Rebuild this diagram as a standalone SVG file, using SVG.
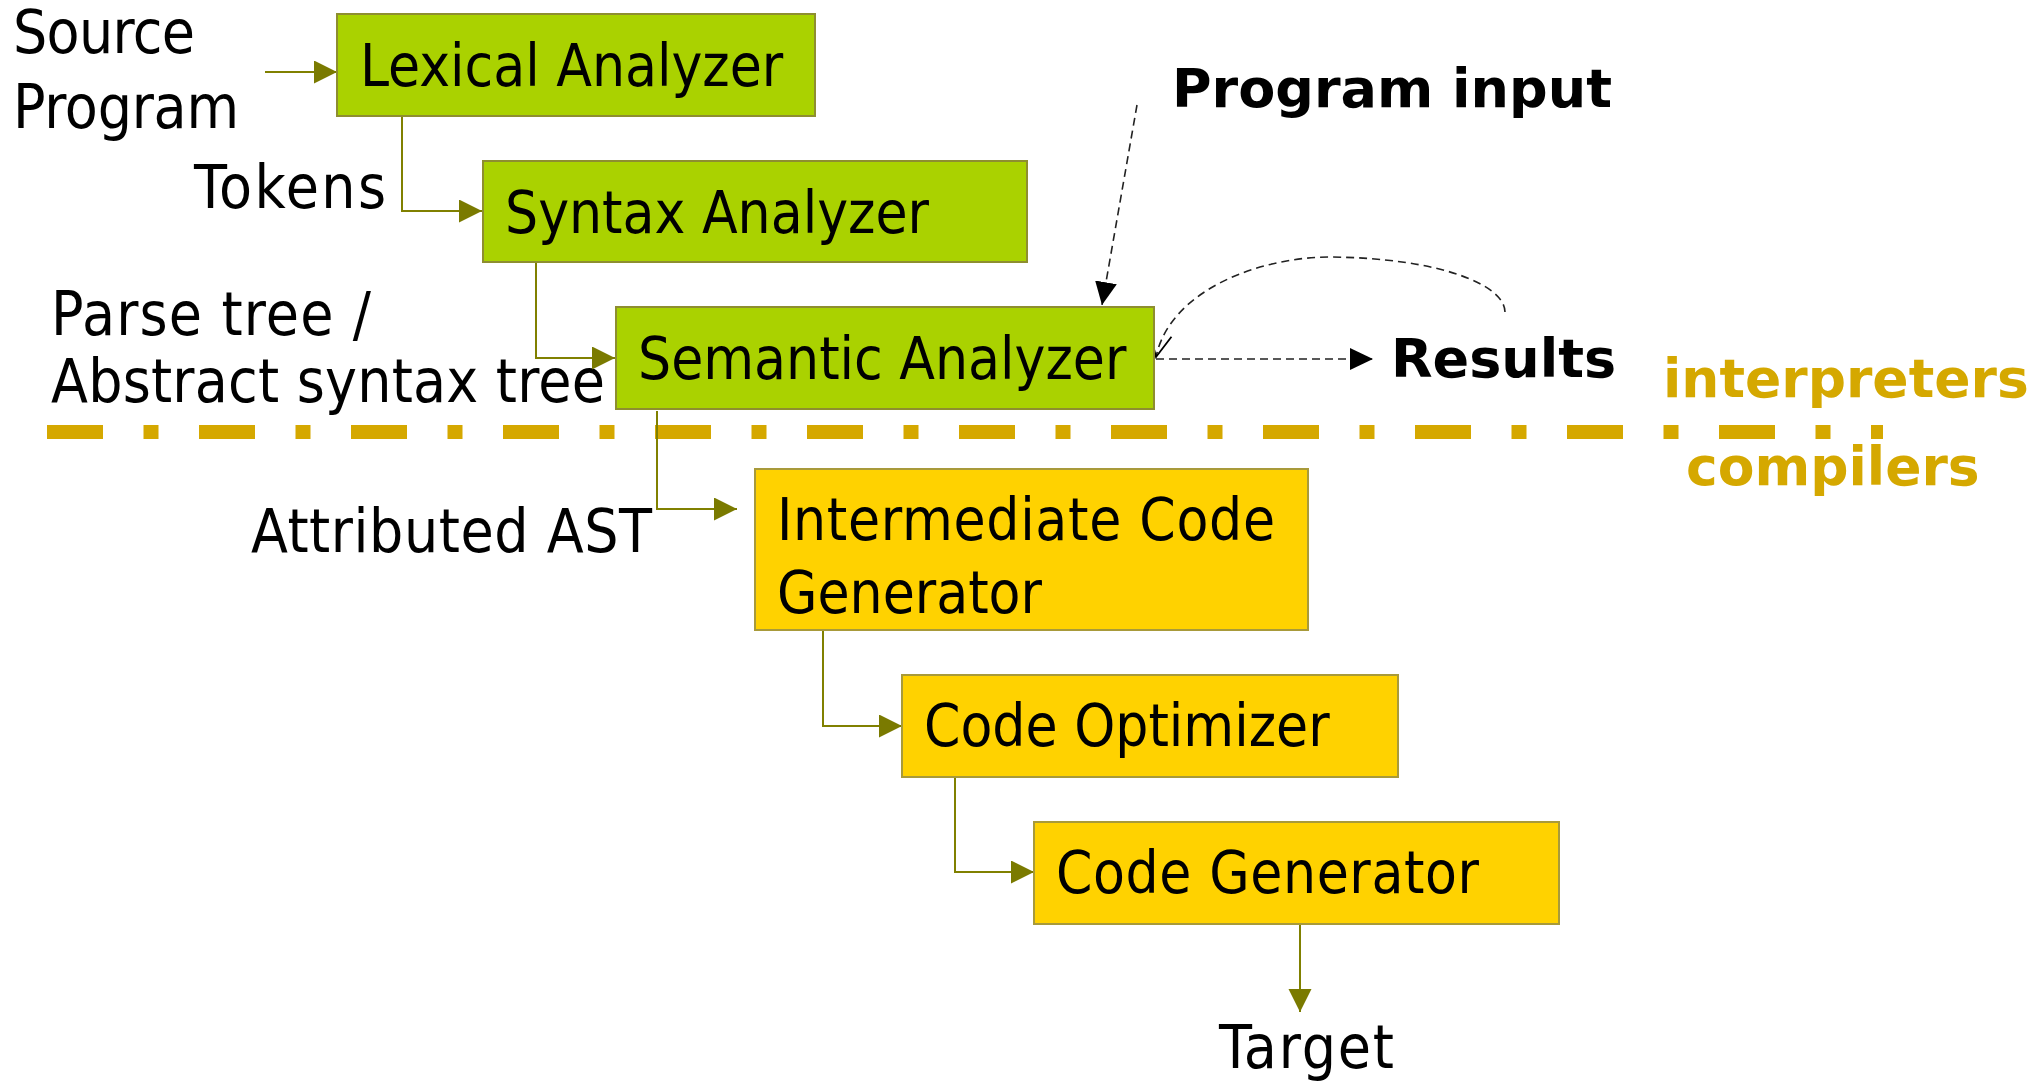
<svg xmlns="http://www.w3.org/2000/svg" width="2041" height="1081" viewBox="0 0 2041 1081">
  <defs>
    <style>
      .g { fill: #AAD200; stroke: #8E8E30; stroke-width: 2; }
      .y { fill: #FFD200; stroke: #A89A3A; stroke-width: 2; }
      .t { font-family: "DejaVu Sans Condensed", "DejaVu Sans", sans-serif; font-stretch: condensed; font-size: 58px; fill: #000; }
      .lbl { font-family: "DejaVu Sans Condensed", "DejaVu Sans", sans-serif; font-stretch: condensed; font-size: 60px; fill: #000; }
      .b { font-family: "DejaVu Sans", Verdana, sans-serif; font-weight: bold; font-size: 54px; fill: #000; }
      .gold { font-family: "DejaVu Sans", Verdana, sans-serif; font-weight: bold; font-size: 53.5px; fill: #D5A800; }
      .ol { fill: none; stroke: #808000; stroke-width: 2; }
      .dash { fill: none; stroke: #222; stroke-width: 1.6; stroke-dasharray: 8 5; }
    </style>
    <marker id="oa" markerUnits="userSpaceOnUse" markerWidth="24" markerHeight="24" refX="23" refY="11.5" orient="auto">
      <path d="M0,0 L23,11.5 L0,23 Z" fill="#7A7A00"/>
    </marker>
    <marker id="ba" markerUnits="userSpaceOnUse" markerWidth="24" markerHeight="24" refX="23" refY="11" orient="auto">
      <path d="M0,0 L23,11 L0,22 Z" fill="#000"/>
    </marker>
    <marker id="va" markerUnits="userSpaceOnUse" markerWidth="30" markerHeight="30" refX="25" refY="13" orient="auto">
      <path d="M2,2 L25,13 L2,24" fill="none" stroke="#000" stroke-width="1.8"/>
    </marker>
  </defs>

  <g id="separator">
    <line x1="47" y1="432" x2="1883" y2="432" stroke="#D5A800" stroke-width="14" stroke-dasharray="56 40.5 15 40.5"/>
  </g>

  <g id="labels">
    <text class="lbl" x="13" y="53" textLength="182" lengthAdjust="spacing">Source</text>
    <text class="lbl" x="13" y="128" textLength="226" lengthAdjust="spacing">Program</text>
    <text class="lbl" x="194" y="208" textLength="192" lengthAdjust="spacing">Tokens</text>
    <text class="lbl" x="51" y="335" textLength="320" lengthAdjust="spacing">Parse tree /</text>
    <text class="lbl" x="51" y="402" textLength="554" lengthAdjust="spacing">Abstract syntax tree</text>
    <text class="lbl" x="251" y="552" textLength="401" lengthAdjust="spacing">Attributed AST</text>
    <text class="lbl" x="1219" y="1068" textLength="175" lengthAdjust="spacing">Target</text>
    <text class="b" x="1172" y="107">Program input</text>
    <text class="b" x="1391" y="377">Results</text>
    <text class="gold" x="1663" y="397">interpreters</text>
    <text class="gold" x="1686" y="485">compilers</text>
  </g>

  <g id="connectors">
    <line class="ol" x1="265" y1="72" x2="337" y2="72" marker-end="url(#oa)"/>
    <polyline class="ol" points="402,116 402,211 482,211" marker-end="url(#oa)"/>
    <polyline class="ol" points="536,262 536,358 615,358" marker-end="url(#oa)"/>
    <polyline class="ol" points="657,411 657,509 737,509" marker-end="url(#oa)"/>
    <polyline class="ol" points="823,631 823,726 902,726" marker-end="url(#oa)"/>
    <polyline class="ol" points="955,777 955,872 1034,872" marker-end="url(#oa)"/>
    <line class="ol" x1="1300" y1="922" x2="1300" y2="1012" marker-end="url(#oa)"/>
    <line class="dash" x1="1137" y1="105" x2="1102" y2="305" stroke-dasharray="10 5" marker-end="url(#ba)"/>
    <line class="dash" x1="1156" y1="359" x2="1373" y2="359" marker-end="url(#ba)"/>
    <path class="dash" d="M1505,312 C1505,285 1440,258 1330,257 C1260,257 1170,290 1156,357" marker-end="url(#va)"/>
  </g>

  <g id="lexical">
    <rect class="g" x="337" y="14" width="478" height="102"/>
    <text class="t" x="360" y="86">Lexical Analyzer</text>
  </g>
  <g id="syntax">
    <rect class="g" x="483" y="161" width="544" height="101"/>
    <text class="t" x="505" y="233">Syntax Analyzer</text>
  </g>
  <g id="semantic">
    <rect class="g" x="616" y="307" width="538" height="102"/>
    <text class="t" x="638" y="379">Semantic Analyzer</text>
  </g>
  <g id="icg">
    <rect class="y" x="755" y="469" width="553" height="161"/>
    <text class="t" x="777" y="540" textLength="498" lengthAdjust="spacing">Intermediate Code</text>
    <text class="t" x="777" y="613">Generator</text>
  </g>
  <g id="optimizer">
    <rect class="y" x="902" y="675" width="496" height="102"/>
    <text class="t" x="924" y="746">Code Optimizer</text>
  </g>
  <g id="codegen">
    <rect class="y" x="1034" y="822" width="525" height="102"/>
    <text class="t" x="1056" y="893" textLength="423" lengthAdjust="spacing">Code Generator</text>
  </g>
</svg>
